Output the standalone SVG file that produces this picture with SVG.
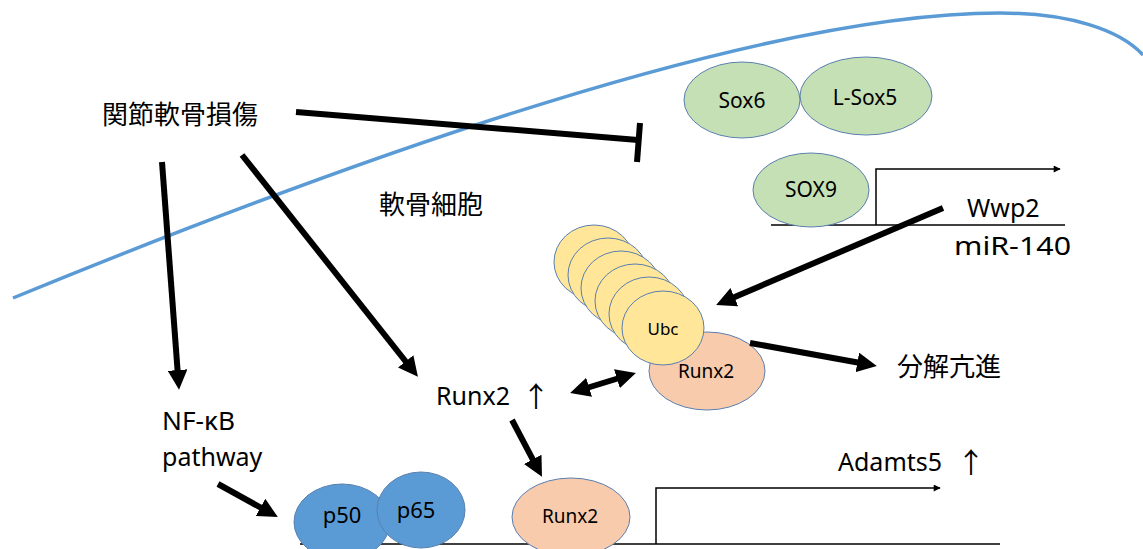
<svg xmlns="http://www.w3.org/2000/svg" width="1143" height="549" viewBox="0 0 1143 549">
<defs>
<style>
.jp{font-family:"Noto Sans CJK JP","Noto Sans",sans-serif;font-size:26px;fill:#000}
.lt{font-family:"Noto Sans","Open Sans","DejaVu Sans",sans-serif;font-size:25px;fill:#000}
.up{font-family:"Noto Sans CJK JP",sans-serif;font-size:28px}
.lbl{font-family:"Noto Sans","Open Sans",sans-serif;fill:#000;text-anchor:middle}
.ell{stroke:#5a7fae;stroke-width:1}
.green{fill:#c5e0b4}
.peach{fill:#f8cbad}
.yellow{fill:#ffe699}
.blue{fill:#5b9bd5}
.thick{stroke:#000;stroke-width:6;fill:none}
.thin{stroke:#000;stroke-width:1.5;fill:none}
</style>
<marker id="ah" viewBox="0 0 10 10" refX="3" refY="5" markerWidth="3.3" markerHeight="3.3" orient="auto-start-reverse">
<path d="M0,0 L10,5 L0,10 z" fill="#000"/>
</marker>
<marker id="ahs" viewBox="0 0 10 10" refX="9" refY="5" markerWidth="10" markerHeight="7" markerUnits="userSpaceOnUse" orient="auto">
<path d="M0,0 L10,5 L0,10 z" fill="#000"/>
</marker>
</defs>
<rect width="1143" height="549" fill="#fff"/>
<!-- cell membrane -->
<path id="membrane" d="M13,298 C413,134 780,13 1000,13 C1070,13 1120,30 1143,55" fill="none" stroke="#5b9bd5" stroke-width="3.5"/>

<!-- promoters -->
<g id="sox9-promoter">
<line x1="771" y1="225" x2="1065" y2="225" class="thin"/>
<polyline points="876,225 876,169 1060,169" class="thin" marker-end="url(#ahs)"/>
</g>
<g id="adamts5-promoter">
<line x1="300" y1="544" x2="1000" y2="544" class="thin"/>
<polyline points="656,544 656,488 940,488" class="thin" marker-end="url(#ahs)"/>
</g>

<g id="sox6"><ellipse cx="742" cy="100" rx="58" ry="38" class="ell green"/><text x="742" y="108" class="lbl" font-size="21">Sox6</text></g>
<g id="lsox5"><ellipse cx="866" cy="96" rx="66" ry="39" class="ell green"/><text x="865" y="105" class="lbl" font-size="21">L-Sox5</text></g>
<g id="sox9"><ellipse cx="811" cy="190" rx="58" ry="37" class="ell green"/><text x="811" y="197" class="lbl" font-size="21">SOX9</text></g>

<g id="runx2-ub"><ellipse cx="707" cy="371" rx="58" ry="39" class="ell peach"/><text x="706" y="378" class="lbl" font-size="19">Runx2</text></g>
<g id="ubc">
<ellipse cx="594" cy="262" rx="40" ry="37" class="ell yellow"/>
<ellipse cx="608" cy="275" rx="40" ry="37" class="ell yellow"/>
<ellipse cx="621" cy="288" rx="40" ry="37" class="ell yellow"/>
<ellipse cx="635" cy="301" rx="40" ry="37" class="ell yellow"/>
<ellipse cx="649" cy="314" rx="40" ry="37" class="ell yellow"/>
<ellipse cx="663" cy="328" rx="41" ry="37" class="ell yellow"/>
<text x="663" y="335" class="lbl" font-size="17">Ubc</text>
</g>

<g id="p50"><ellipse cx="342" cy="522" rx="48" ry="38" class="ell blue"/><text x="342" y="523" class="lbl" font-size="22">p50</text></g>
<g id="p65"><ellipse cx="421" cy="510" rx="44" ry="38" class="ell blue"/><text x="416" y="518" class="lbl" font-size="22">p65</text></g>
<g id="runx2-dna"><ellipse cx="571" cy="517" rx="59" ry="39" class="ell peach"/><text x="570" y="523" class="lbl" font-size="19">Runx2</text></g>

<g id="connectors">
<line x1="296" y1="112" x2="638" y2="140" class="thick"/>
<line x1="640" y1="123" x2="637" y2="162" class="thick"/>
<line x1="162" y1="162" x2="178" y2="376" class="thick" marker-end="url(#ah)"/>
<line x1="242" y1="155" x2="409.3" y2="366" class="thick" marker-end="url(#ah)"/>
<line x1="512" y1="420" x2="535.5" y2="464.6" class="thick" marker-end="url(#ah)"/>
<line x1="583.4" y1="389" x2="622.6" y2="377" class="thick" marker-start="url(#ah)" marker-end="url(#ah)"/>
<line x1="218" y1="484" x2="265.7" y2="510.3" class="thick" marker-end="url(#ah)"/>
<line x1="943" y1="208" x2="728.9" y2="299.5" class="thick" marker-end="url(#ah)"/>
<line x1="750" y1="343" x2="863.2" y2="363.5" class="thick" marker-end="url(#ah)"/>
</g>

<g id="labels">
<text x="102" y="124" class="jp">関節軟骨損傷</text>
<text x="379" y="214" class="jp">軟骨細胞</text>
<text x="897" y="376" class="jp">分解亢進</text>
<text x="436" y="405" class="lt">Runx2 <tspan class="up" x="522" y="407">↑</tspan></text>
<text x="967" y="217" class="lt" font-size="27">Wwp2</text>
<text x="954" y="255" class="lt" font-size="28" textLength="117" lengthAdjust="spacingAndGlyphs">miR-140</text>
<text x="162" y="430" class="lt" textLength="73" lengthAdjust="spacingAndGlyphs">NF-κB</text>
<text x="162" y="466" class="lt" font-size="26">pathway</text>
<text x="838" y="471" class="lt" font-size="24">Adamts5 <tspan class="up" x="957" y="473">↑</tspan></text>
</g>
</svg>
